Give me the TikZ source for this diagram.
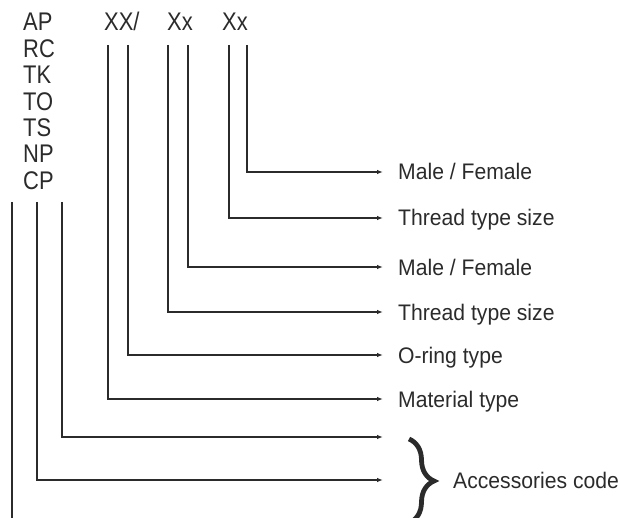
\documentclass[tikz,border=0pt]{standalone}
\usepackage{fontspec}
\setmainfont{Liberation Sans}
\newfontfamily\condfont[FakeStretch=0.86]{Liberation Sans}
\newfontfamily\lblfont[FakeStretch=0.94]{Liberation Sans}
\usetikzlibrary{arrows.meta,decorations.pathreplacing}
\definecolor{ink}{HTML}{2B2B2B}
\begin{document}
\begin{tikzpicture}[x=1pt,y=-1pt,
  head/.style={anchor=base west,inner sep=0pt,text=ink,font=\condfont\fontsize{25.5}{25.5}\selectfont},
  lbl/.style={anchor=west,inner xsep=15pt,inner ysep=0pt,text height=16pt,text depth=0pt,text=ink,font=\lblfont\fontsize{22.5}{22.5}\selectfont},
  conn/.style={draw=ink,line width=1.1pt,-{Latex[length=6pt,width=4.5pt]}},
  bracestyle/.style={draw=ink,line width=4.8pt,decorate,decoration={brace,amplitude=25pt}}]
\useasboundingbox (0,0) rectangle (620,518);
\clip (0,0) rectangle (620,518);
% left column of codes
\foreach \t [count=\i from 0] in {AP,RC,TK,TO,TS,NP,CP}
  \node[head] (code\i) at (23,{31+26.4*\i}) {\t};
% header groups
\node[head] (hA) at (104,31) {XX/};
\node[head] (hB) at (167,31) {Xx};
\node[head] (hC) at (222,31) {Xx};
% labels
\node[lbl] (l1) at (383,172) {Male / Female};
\node[lbl] (l2) at (383,218) {Thread type size};
\node[lbl] (l3) at (383,267) {Male / Female};
\node[lbl] (l4) at (383,312) {Thread type size};
\node[lbl] (l5) at (383,355) {O-ring type};
\node[lbl] (l6) at (383,399) {Material type};
\node[lbl] (acc) at (438,480) {Accessories code};
\coordinate (a1) at (383,437);
\coordinate (a2) at (383,480);
\coordinate (a3) at (383,521);
% line tops
\coordinate (t1) at (247,45);
\coordinate (t2) at (229,45);
\coordinate (t3) at (188,45);
\coordinate (t4) at (168,45);
\coordinate (t5) at (128,45);
\coordinate (t6) at (108,45);
\coordinate (t7) at (62,202);
\coordinate (t8) at (37,202);
\coordinate (t9) at (12,202);
% connectors
\draw[conn] (t1) |- (l1.west);
\draw[conn] (t2) |- (l2.west);
\draw[conn] (t3) |- (l3.west);
\draw[conn] (t4) |- (l4.west);
\draw[conn] (t5) |- (l5.west);
\draw[conn] (t6) |- (l6.west);
\draw[conn] (t7) |- (a1);
\draw[conn] (t8) |- (a2);
\draw[conn] (t9) |- (a3);
% brace
\draw[bracestyle] (409,439) -- (409,523);
\end{tikzpicture}
\end{document}
